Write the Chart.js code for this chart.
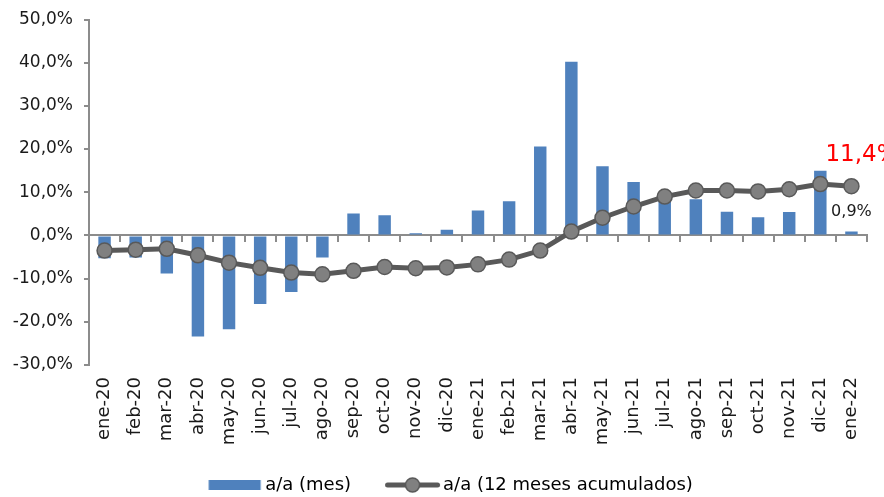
<!DOCTYPE html>
<html>
<head>
<meta charset="utf-8">
<script src="https://cdn.jsdelivr.net/npm/chart.js@4.4.1/dist/chart.umd.min.js"></script>
<style>
  body { margin: 0; background: #fff; }
  #wrap { width: 884px; height: 497px; }
</style>
</head>
<body>
<div id="wrap"><canvas id="grafico"></canvas></div>
<script>
const meses = ['ene-20', 'feb-20', 'mar-20', 'abr-20', 'may-20', 'jun-20', 'jul-20', 'ago-20',
  'sep-20', 'oct-20', 'nov-20', 'dic-20', 'ene-21', 'feb-21', 'mar-21', 'abr-21', 'may-21',
  'jun-21', 'jul-21', 'ago-21', 'sep-21', 'oct-21', 'nov-21', 'dic-21', 'ene-22'];

// a/a (mes), %
const aaMes = [-5.3, -5.1, -8.8, -23.4, -21.7, -15.9, -13.1, -5.1,
  5.1, 4.7, 0.5, 1.3, 5.8, 7.9, 20.6, 40.2, 16.0,
  12.4, 9.3, 8.4, 5.5, 4.2, 5.4, 15.0, 0.9];

// a/a (12 meses acumulados), %
const aaAcum = [-3.5, -3.3, -3.1, -4.6, -6.3, -7.5, -8.6, -9.0,
  -8.2, -7.3, -7.6, -7.4, -6.7, -5.6, -3.5, 0.9, 4.1,
  6.7, 9.0, 10.4, 10.4, 10.2, 10.7, 11.9, 11.4];

const ejeYMin = -30;
const ejeYMax = 50;
const ejeYPaso = 10;

const fuente = 'DejaVu Sans';
const azul = '#4F81BD';
const grisLinea = '#595959';
const grisPunto = '#808080';
const grisEje = '#8c8c8c';

const fmt = v => v.toFixed(1).replace('.', ',') + '%';

// swatches de la leyenda (98 px de ancho, centrados en una caja de 82)
function swatchBarra() {
  const c = document.createElement('canvas');
  c.width = 98; c.height = 12;
  const g = c.getContext('2d');
  g.fillStyle = azul;
  g.fillRect(42.5, 1, 52, 10);
  return c;
}
function swatchLinea() {
  const c = document.createElement('canvas');
  c.width = 98; c.height = 18;
  const g = c.getContext('2d');
  g.strokeStyle = grisLinea;
  g.lineWidth = 5;
  g.lineCap = 'round';
  g.beginPath(); g.moveTo(43.5, 9); g.lineTo(93.5, 9); g.stroke();
  g.fillStyle = grisPunto;
  g.lineWidth = 1.5;
  g.beginPath(); g.arc(68.5, 9, 7, 0, Math.PI * 2); g.fill(); g.stroke();
  return c;
}

// etiquetas del último dato
const etiquetasFinales = {
  id: 'etiquetasFinales',
  afterDatasetsDraw(chart) {
    const ctx = chart.ctx;
    const n = meses.length - 1;
    const pLinea = chart.getDatasetMeta(0).data[n];
    const pBarra = chart.getDatasetMeta(1).data[n];
    ctx.save();
    ctx.textBaseline = 'middle';
    ctx.fillStyle = '#ff0000';
    ctx.font = '23px "' + fuente + '"';
    ctx.textAlign = 'left';
    ctx.fillText(fmt(aaAcum[n]), pLinea.x - 26, pLinea.y - 31);
    ctx.fillStyle = '#1a1a1a';
    ctx.font = '16px "' + fuente + '"';
    ctx.textAlign = 'center';
    ctx.fillText(fmt(aaMes[n]), pBarra.x, pBarra.y - 20);
    ctx.restore();
  }
};

const ctx = document.getElementById('grafico');

new Chart(ctx, {
  type: 'bar',
  data: {
    labels: meses,
    datasets: [
      {
        type: 'line',
        label: 'a/a (12 meses acumulados)',
        data: aaAcum,
        order: 0,
        borderColor: grisLinea,
        borderWidth: 5,
        pointRadius: 7.5,
        pointBackgroundColor: grisPunto,
        pointBorderColor: grisLinea,
        pointBorderWidth: 1.5,
        tension: 0
      },
      {
        label: 'a/a (mes)',
        data: aaMes,
        order: 1,
        backgroundColor: azul,
        barPercentage: 0.8,
        categoryPercentage: 0.5
      }
    ]
  },
  options: {
    responsive: true,
    maintainAspectRatio: false,
    animation: false,
    layout: { padding: { left: 0, right: 17, top: 0, bottom: -7 } },
    scales: {
      x: {
        type: 'category',
        position: { y: 0 },
        offset: true,
        ticks: { display: false },
        grid: { offset: true, drawOnChartArea: false, drawTicks: true, tickLength: 6, color: grisEje, lineWidth: 2 },
        border: { color: grisEje, width: 2 }
      },
      x2: {
        type: 'category',
        position: 'bottom',
        labels: meses,
        offset: true,
        grid: { display: false },
        border: { display: false },
        ticks: {
          autoSkip: false, minRotation: 90, maxRotation: 90, padding: 4,
          color: '#1a1a1a', font: { family: fuente, size: 18 }
        },
        afterFit: s => { s.height = 110; }
      },
      y: {
        min: ejeYMin,
        max: ejeYMax,
        ticks: {
          stepSize: ejeYPaso, padding: 11, color: '#1a1a1a',
          font: { family: fuente, size: 17, lineHeight: 1 },
          callback: v => fmt(v)
        },
        grid: { drawOnChartArea: false, tickLength: 5, color: grisEje, lineWidth: 2 },
        border: { color: grisEje, width: 2 },
        afterFit: s => { s.width = 89; }
      }
    },
    plugins: {
      tooltip: { enabled: false },
      legend: {
        position: 'bottom',
        labels: {
          usePointStyle: true,
          pointStyleWidth: 82,
          padding: 1,
          color: '#1a1a1a',
          font: { family: fuente, size: 18 },
          generateLabels: () => [
            { text: 'a/a (mes)', pointStyle: swatchBarra(), fillStyle: azul, strokeStyle: azul, lineWidth: 0, datasetIndex: 1 },
            { text: 'a/a (12 meses acumulados)', pointStyle: swatchLinea(), fillStyle: grisPunto, strokeStyle: grisLinea, lineWidth: 0, datasetIndex: 0 }
          ]
        }
      }
    }
  },
  plugins: [etiquetasFinales]
});
</script>
</body>
</html>
